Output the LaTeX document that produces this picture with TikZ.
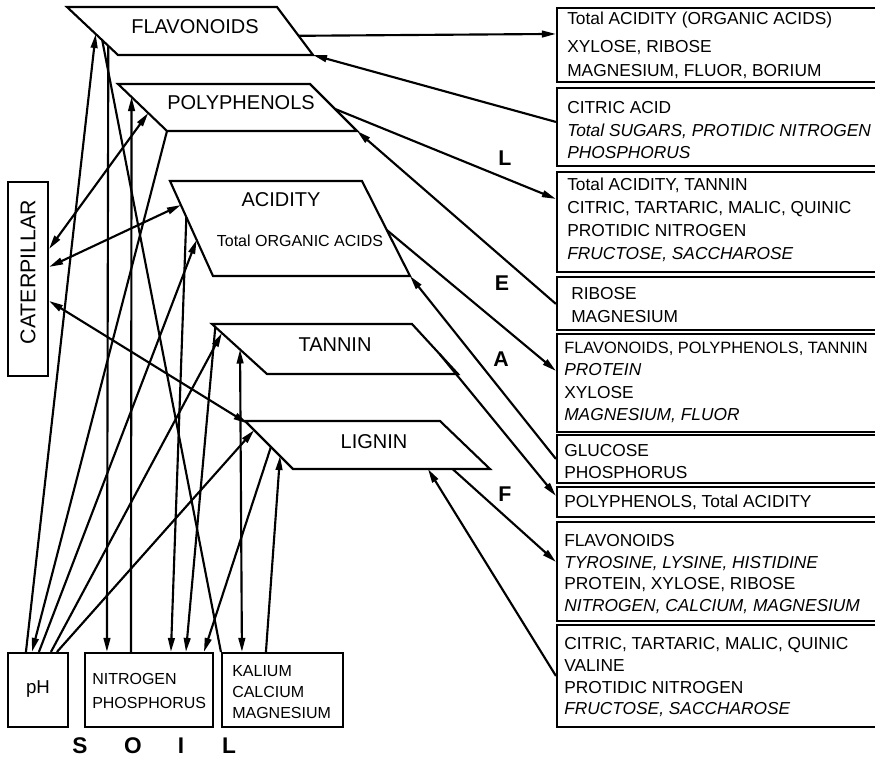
\documentclass[tikz,border=0pt]{standalone}
\usepackage{fontspec}
\setmainfont{Liberation Sans}
\usetikzlibrary{arrows.meta,calc,fit}
\begin{document}
\begin{tikzpicture}[x=0.75pt,y=-0.75pt]
\tikzset{
 ln/.style={line width=1.6pt},
 shp/.style={draw, line width=1.6pt, line join=miter},
 rbox/.style={draw, line width=1.6pt, inner sep=0pt},
 ar/.style={ln, -{Triangle[length=10.5pt,width=5pt]}},
 dar/.style={ln, {Triangle[length=10.5pt,width=5pt]}-{Triangle[length=10.5pt,width=5pt]}},
 plbl/.style={inner sep=0pt, font=\fontsize{15}{18}\selectfont},
 btxt/.style={anchor=base west, inner sep=0pt, font=\fontsize{13}{15}\selectfont},
 bit/.style={btxt, font=\fontsize{13}{15}\selectfont\itshape},
 stxt/.style={anchor=base west, inner sep=0pt, font=\fontsize{12}{14}\selectfont},
 big/.style={inner sep=0pt, font=\fontsize{16}{18}\selectfont\bfseries},
}
\useasboundingbox (0,0) rectangle (875,758);
\clip (0,0) rectangle (875,758);

% ---------- parallelograms ----------
\coordinate (fl-tl) at (67,7);   \coordinate (fl-tr) at (277,7);
\coordinate (fl-br) at (313,55); \coordinate (fl-bl) at (118,55);
\coordinate (po-tl) at (118,84); \coordinate (po-tr) at (310,84);
\coordinate (po-br) at (357,131);\coordinate (po-bl) at (167,131);
\coordinate (ac-tl) at (170,181);\coordinate (ac-tr) at (362,181);
\coordinate (ac-br) at (410,276);\coordinate (ac-bl) at (213,276);
\coordinate (ta-tl) at (212,324);\coordinate (ta-tr) at (412,324);
\coordinate (ta-br) at (458,374);\coordinate (ta-bl) at (267,374);
\coordinate (li-tl) at (245,421);\coordinate (li-tr) at (440,421);
\coordinate (li-br) at (490,469);\coordinate (li-bl) at (293,469);
\draw[shp] (fl-tl) -- (fl-tr) -- (fl-br) -- (fl-bl) -- cycle;
\draw[shp] (po-tl) -- (po-tr) -- (po-br) -- (po-bl) -- cycle;
\draw[shp] (ac-tl) -- (ac-tr) -- (ac-br) -- (ac-bl) -- cycle;
\draw[shp] (ta-tl) -- (ta-tr) -- (ta-br) -- (ta-bl) -- cycle;
\draw[shp] (li-tl) -- (li-tr) -- (li-br) -- (li-bl) -- cycle;
\node[plbl] (flL) at (195,27) {FLAVONOIDS};
\node[plbl] (poL) at (241,103) {POLYPHENOLS};
\node[plbl] (acL) at (281,200) {ACIDITY};
\node[inner sep=0pt, font=\fontsize{12}{14}\selectfont] (acL2) at (300,241) {Total ORGANIC ACIDS};
\node[plbl] (taL) at (335,345) {TANNIN};
\node[plbl] (liL) at (374,442) {LIGNIN};

% ---------- caterpillar ----------
\node[rbox, fit={(8,182) (48,376)}] (cat) {};
\node[rotate=90, inner sep=0pt, font=\fontsize{16}{18}\selectfont] (catL) at (28,272) {CATERPILLAR};

% ---------- soil boxes ----------
\node[rbox, fit={(8,653) (68,727)}] (ph) {};
\node[rbox, fit={(85,653) (213,727)}] (nit) {};
\node[rbox, fit={(222,653) (343,727)}] (kal) {};
\node[inner sep=0pt, font=\fontsize{14}{16}\selectfont] (phL) at (38,689) {pH};
\node[stxt] (n1) at (92,684) {NITROGEN};
\node[stxt] (n2) at (92,708) {PHOSPHORUS};
\node[stxt] (k1) at (232,676) {KALIUM};
\node[stxt] (k2) at (232,697) {CALCIUM};
\node[stxt] (k3) at (232,718) {MAGNESIUM};
\node[big, font=\fontsize{17}{19}\selectfont\bfseries] (sS) at (80,746) {S};
\node[big, font=\fontsize{17}{19}\selectfont\bfseries] (sO) at (133,746) {O};
\node[big, font=\fontsize{17}{19}\selectfont\bfseries] (sI) at (181,746) {I};
\node[big, font=\fontsize{17}{19}\selectfont\bfseries] (sL) at (229,746) {L};

% ---------- leaf boxes ----------
\node[rbox, fit={(557,8) (900,82)}] (b1) {};
\node[rbox, fit={(557,88) (900,166)}] (b2) {};
\node[rbox, fit={(557,172) (900,272)}] (b3) {};
\node[rbox, fit={(557,277) (900,330)}] (b4) {};
\node[rbox, fit={(557,334) (900,432)}] (b5) {};
\node[rbox, fit={(557,435) (900,483)}] (b6) {};
\node[rbox, fit={(557,487) (900,517)}] (b7) {};
\node[rbox, fit={(557,522) (900,621)}] (b8) {};
\node[rbox, fit={(557,625) (900,727)}] (b9) {};

\node[btxt] (t1a) at (567,24) {Total ACIDITY (ORGANIC ACIDS)};
\node[btxt] (t1b) at (567,52) {XYLOSE, RIBOSE};
\node[btxt] (t1c) at (567,76) {MAGNESIUM, FLUOR, BORIUM};
\node[btxt] (t2a) at (567,113) {CITRIC ACID};
\node[bit]  (t2b) at (567,136) {Total SUGARS, PROTIDIC NITROGEN};
\node[bit]  (t2c) at (567,158) {PHOSPHORUS};
\node[btxt] (t3a) at (567,190) {Total ACIDITY, TANNIN};
\node[btxt] (t3b) at (567,213) {CITRIC, TARTARIC, MALIC, QUINIC};
\node[btxt] (t3c) at (567,236) {PROTIDIC NITROGEN};
\node[bit]  (t3d) at (567,259) {FRUCTOSE, SACCHAROSE};
\node[btxt] (t4a) at (571,299) {RIBOSE};
\node[btxt] (t4b) at (571,322) {MAGNESIUM};
\node[btxt, font=\fontsize{12.3}{15}\selectfont] (t5a) at (564,353) {FLAVONOIDS, POLYPHENOLS, TANNIN};
\node[bit]  (t5b) at (564,375) {PROTEIN};
\node[btxt] (t5c) at (564,398) {XYLOSE};
\node[bit]  (t5d) at (564,420) {MAGNESIUM, FLUOR};
\node[btxt] (t6a) at (564,456) {GLUCOSE};
\node[btxt] (t6b) at (564,478) {PHOSPHORUS};
\node[btxt] (t7a) at (564,507) {POLYPHENOLS, Total ACIDITY};
\node[btxt] (t8a) at (564,546) {FLAVONOIDS};
\node[bit]  (t8b) at (564,568) {TYROSINE, LYSINE, HISTIDINE};
\node[btxt] (t8c) at (564,589) {PROTEIN, XYLOSE, RIBOSE};
\node[bit]  (t8d) at (564,611) {NITROGEN, CALCIUM, MAGNESIUM};
\node[btxt] (t9a) at (564,649) {CITRIC, TARTARIC, MALIC, QUINIC};
\node[btxt] (t9b) at (564,671) {VALINE};
\node[btxt] (t9c) at (564,693) {PROTIDIC NITROGEN};
\node[bit]  (t9d) at (564,714) {FRUCTOSE, SACCHAROSE};

\node[big] (lL) at (505,158) {L};
\node[big] (lE) at (502,283) {E};
\node[big] (lA) at (501,359) {A};
\node[big] (lF) at (505,494) {F};

% ---------- leaf connectors ----------
\draw[ar] ($(fl-tr)!0.6!(fl-br)$) -- ($(b1.north west)+(0,27)$);
\draw[ar] ($(b2.north west)+(0,35)$) -- (fl-br);
\draw[ar] ($(po-tr)!0.53!(po-br)$) -- ($(b3.north west)+(0,28)$);
\draw[ar] ($(b4.north west)+(0,28)$) -- (po-br);
\draw[ar] ($(ac-tr)!0.516!(ac-br)$) -- ($(b5.north west)+(0,38)$);
\draw[ar] ($(b6.north west)+(0,25)$) -- (ac-br);
\draw[ar] ($(ta-tr)!0.6!(ta-br)$) -- ($(b7.north west)+(0,10)$);
\draw[ar] ($(li-bl)!0.81!(li-br)$) -- ($(b8.north west)+(0,41)$);
\draw[ar] ($(b9.north west)+(0,52)$) -- ($(li-bl)!0.685!(li-br)$);

% ---------- caterpillar connectors ----------
\draw[dar] ($(cat.north east)+(0,68)$) -- ($(po-tl)!0.617!(po-bl)$);
\draw[dar] ($(cat.north east)+(0,86)$) -- ($(ac-tl)!0.253!(ac-bl)$);
\draw[dar] ($(cat.north east)+(0,120)$) -- ($(li-tl)!0.05!(li-bl)$);

% ---------- soil connectors ----------
% pH
\draw[ar] ($(ph.north west)+(19,0)$) -- ($(fl-tl)!0.5625!(fl-bl)$);
\draw[ar] (po-bl) -- ($(ph.north west)+(25,0)$);
\draw[ar] ($(ph.north west)+(32,0)$) -- ($(ac-tl)!0.62!(ac-bl)$);
\draw[ar] ($(ph.north west)+(44,0)$) -- ($(ta-tl)!0.18!(ta-bl)$);
\draw[ar] ($(ph.north west)+(50,0)$) -- ($(li-tl)!0.19!(li-bl)$);
% nitrogen / phosphorus
\draw[ar] ($(fl-tl)!0.81!(fl-bl)$) -- ($(nit.north west)+(23,0)$);
\draw[ar] ($(nit.north west)+(47,0)$) -- ($(po-tl)!0.277!(po-bl)$);
\draw[ar] ($(ac-tl)!0.38!(ac-bl)$) -- ($(nit.north west)+(87,0)$);
\draw[ar] ($(ta-tl)!0.06!(ta-bl)$) -- ($(nit.north west)+(102,0)$);
\draw[ar] ($(li-tl)!0.54!(li-bl)$) -- ($(nit.north west)+(120,0)$);
% kalium / calcium / magnesium
\draw[ln] ($(fl-tl)!0.69!(fl-bl)$) -- (kal.north west);
\draw[dar] ($(ta-tl)!0.51!(ta-bl)$) -- ($(kal.north west)+(21,0)$);
\draw[ar] ($(kal.north west)+(45,0)$) -- ($(li-tl)!0.73!(li-bl)$);
\end{tikzpicture}
\end{document}
